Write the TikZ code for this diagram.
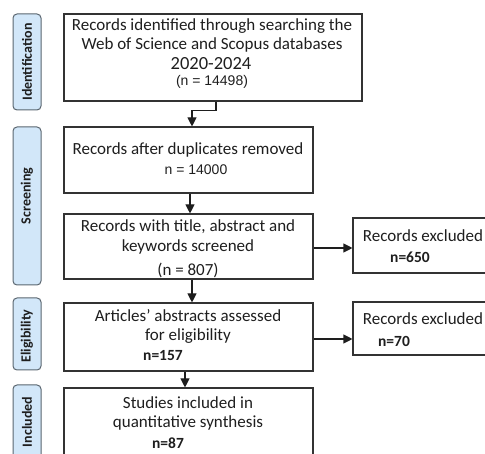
\documentclass[tikz,border=0pt]{standalone}
\usepackage{fontspec}
\setmainfont{Carlito}
\newfontfamily\arialish{Liberation Sans}
\usetikzlibrary{arrows.meta,calc}
\definecolor{sidefill}{HTML}{D2E7F9}
\definecolor{sideline}{HTML}{5A6670}
\definecolor{boxline}{HTML}{333333}
\definecolor{txt}{HTML}{1E1E1E}
\tikzset{
  box/.style={draw=boxline, line width=1.1pt, inner sep=0pt},
  side/.style={draw=sideline, fill=sidefill, line width=1pt, rounded corners=4pt, inner sep=0pt, minimum width=28pt},
  sidetxt/.style={rotate=90, font=\bfseries\fontsize{14}{15}\selectfont, text=txt},
  tx/.style={font=\fontsize{17}{19.5}\selectfont, text=txt, align=center, inner sep=0pt},
  nb/.style={font=\bfseries\fontsize{15.5}{18}\selectfont, text=txt, inner sep=0pt},
  arr/.style={draw=txt, line width=1.1pt, -{Triangle[length=9pt,width=9pt]}}
}
\begin{document}
\begin{tikzpicture}[x=1pt,y=-1pt]
\useasboundingbox (0,0) rectangle (485,454);
\clip (0,0) rectangle (485,454);
% side bars
\node[side, minimum height=96pt] (sid) at (27,62) {};
\node[sidetxt] (sidt) at (sid.center) {Identification};
\node[side, minimum height=158pt] (sscr) at (27,206) {};
\node[sidetxt] (sscrt) at ([yshift=10pt]sscr.center) {Screening};
\node[side, minimum height=72pt] (sel) at (27,334) {};
\node[sidetxt] (selt) at ([yshift=-2pt]sel.center) {Eligibility};
\node[side, minimum height=80pt] (sin) at (27,425) {};
\node[sidetxt] (sint) at ([yshift=3pt]sin.center) {Included};
% main boxes
\node[box, minimum width=298pt, minimum height=87pt] (b1) at (213,57.5) {};
\node[box, minimum width=249pt, minimum height=66pt] (b2) at (188.5,160) {};
\node[box, minimum width=249pt, minimum height=65pt] (b3) at (188.5,246.5) {};
\node[box, minimum width=249pt, minimum height=68pt] (b4) at (188.5,337) {};
\node[box, minimum width=249pt, minimum height=76pt] (b5) at (188.5,426) {};
\node[box, minimum width=137pt, minimum height=55pt] (e1) at (421.5,245.5) {};
\node[box, minimum width=137pt, minimum height=53pt] (e2) at (421.5,328.5) {};
% texts
\node[tx] (t1a) at (212,26) {Records identified through searching the};
\node[tx] (t1b) at (212,45) {Web of Science and Scopus databases};
\node[tx, font=\fontsize{18.5}{20}\selectfont] (t1c) at (211,63.5) {2020-2024};
\node[tx, font=\arialish\fontsize{14}{16}\selectfont] (t1d) at (212,82) {(n = 14498)};
\node[tx] (t2a) at (188,150) {Records after duplicates removed};
\node[tx, font=\arialish\fontsize{14}{16}\selectfont] (t2b) at (196,170) {n = 14000};
\node[tx] (t3a) at (188,227) {Records with title, abstract and};
\node[tx] (t3b) at (188,247) {keywords screened};
\node[tx] (t3c) at (188,270) {(n = 807)};
\node[tx] (t4a) at (188,316) {Articles' abstracts assessed};
\node[tx] (t4b) at (188,336) {for eligibility};
\node[nb] (t4c) at (163,356) {n=157};
\node[tx] (t5a) at (188,403) {Studies included in};
\node[tx] (t5b) at (188,423) {quantitative synthesis};
\node[nb] (t5c) at (168,443) {n=87};
\node[tx] (te1a) at (423,236) {Records excluded};
\node[nb] (te1b) at (410,257) {n=650};
\node[tx] (te2a) at (423,319) {Records excluded};
\node[nb] (te2b) at (394,341) {n=70};
% connectors
\draw[arr] ([xshift=3pt]b1.south) -- ++(0,9) -| ([xshift=3.5pt]b2.north);
\draw[arr] ([xshift=1.5pt]b2.south) -- ([xshift=1.5pt]b3.north);
\draw[arr] ([xshift=3.5pt]b3.south) -- ([xshift=3.5pt]b4.north);
\draw[arr] ([xshift=-3.5pt]b4.south) -- ([xshift=-3.5pt]b5.north);
\draw[arr] ([yshift=-1.5pt]b3.east) -- ([yshift=-1.5pt]b3.east -| e1.west);
\draw[arr] ([yshift=-2pt]b4.east) -- ([yshift=-2pt]b4.east -| e2.west);
\end{tikzpicture}
\end{document}
